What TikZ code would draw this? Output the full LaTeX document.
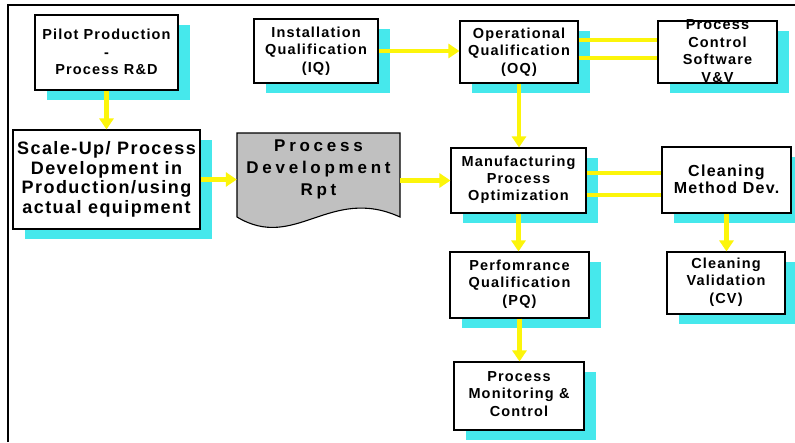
\documentclass[tikz,border=0pt]{standalone}
\usepackage{fontspec}
\newfontfamily\bx{Liberation Sans}[LetterSpace=8]
\newfontfamily\bxwide{Liberation Sans}[LetterSpace=22]
\usetikzlibrary{arrows.meta,shadows,calc}
\definecolor{shcyan}{RGB}{70,232,236}
\definecolor{ayel}{RGB}{252,245,10}
\definecolor{docgray}{RGB}{192,192,192}
\tikzset{
  box/.style={draw=black,line width=1.1pt,fill=white,rectangle,inner sep=0pt,
    drop shadow={shadow xshift=12pt,shadow yshift=-10pt,fill=shcyan,opacity=1}},
  txt/.style={align=center,inner sep=0pt,font=\bx\bfseries\fontsize{14.5}{17.5}\selectfont},
  arr/.style={draw=ayel,line width=4.5pt,-{Triangle[width=14pt,length=11pt]}},
  link/.style={draw=ayel,line width=4.5pt}
}
\begin{document}
\begin{tikzpicture}[x=1pt,y=-1pt]
\useasboundingbox (0,0) rectangle (795,442);
\fill[white] (0,0) rectangle (795,442);
\draw[line width=2pt] (8,442) -- (8,5) -- (795,5);

% boxes
\node[box,minimum width=143pt,minimum height=75pt] (pilot) at (106.5,52.5) {};
\node[txt,text depth=0pt] (pilott) at (106.5,52) {Pilot Production\\-\\Process R\&D};
\node[box,minimum width=124pt,minimum height=64pt] (iq) at (316,51) {};
\node[txt] (iqt) at (316,51) {Installation\\Qualification\\(IQ)};
\node[box,minimum width=187pt,minimum height=99pt] (scale) at (106.5,179.5) {};
\node[txt,font=\bx\bfseries\fontsize{18}{19.5}\selectfont] (scalet) at (106.5,179.5)
  {Scale-Up/ Process\\Development in\\Production/using\\actual equipment};
\node[box,minimum width=118pt,minimum height=62pt] (oq) at (519,52) {};
\node[txt] (oqt) at (519,52) {Operational\\Qualification\\(OQ)};
\node[box,minimum width=119pt,minimum height=62pt] (pcs) at (717.5,52) {};
\node[txt] (pcst) at (717.5,51) {Process\\Control\\Software\\V\&V};
\node[box,minimum width=135pt,minimum height=65pt] (mfg) at (518.5,180.5) {};
\node[txt,font=\bx\bfseries\fontsize{14.5}{16.8}\selectfont] (mfgt) at (518.5,179.5) {Manufacturing\\Process\\Optimization};
\node[box,minimum width=129pt,minimum height=66pt] (cmd) at (726.5,180) {};
\node[txt,font=\bx\bfseries\fontsize{16}{17}\selectfont] (cmdt) at (726.5,179) {Cleaning\\Method Dev.};
\node[box,minimum width=139pt,minimum height=66pt] (pq) at (519.5,285) {};
\node[txt] (pqt) at (519.5,284) {Perfomrance\\Qualification\\(PQ)};
\node[box,minimum width=118pt,minimum height=62pt] (cv) at (726,283) {};
\node[txt] (cvt) at (726,282) {Cleaning\\Validation\\(CV)};
\node[box,minimum width=130pt,minimum height=68pt] (mon) at (519,396) {};
\node[txt] (mont) at (519,394) {Process\\Monitoring \&\\Control};

% document shape
\node[minimum width=163pt,minimum height=84pt,inner sep=0pt] (doc) at (318.5,175) {};
\draw[fill=docgray,line width=1.1pt] (237,133) -- (400,133) -- (400,217)
  .. controls (330,185) and (295,252) .. (237,217) -- cycle;
\node[align=center,inner sep=0pt,font=\bxwide\bfseries\fontsize{17}{22}\selectfont] (doct) at (318.5,169)
  {Process\\Development\\Rpt};

% connectors
\draw[arr] (pilot.south) -- (scale.north);
\draw[arr] (scale.east) -- (scale.east -| doc.west);
\draw[arr] (mfg.west -| doc.east) -- (mfg.west);
\draw[arr] (iq.east) -- (iq.east -| oq.west);
\draw[arr] (oq.south) -- (oq.south |- mfg.north);
\coordinate (o1) at ([yshift=12pt]oq.east);
\coordinate (o2) at ([yshift=-6pt]oq.east);
\draw[link] (o1) -- (o1 -| pcs.west);
\draw[link] (o2) -- (o2 -| pcs.west);
\coordinate (m1) at ([yshift=7.5pt]mfg.east);
\coordinate (m2) at ([yshift=-14.5pt]mfg.east);
\draw[link] (m1) -- (m1 -| cmd.west);
\draw[link] (m2) -- (m2 -| cmd.west);
\draw[arr] (mfg.south) -- (mfg.south |- pq.north);
\draw[arr] (cmd.south) -- (cmd.south |- cv.north);
\draw[arr] (pq.south) -- (pq.south |- mon.north);
\end{tikzpicture}
\end{document}
